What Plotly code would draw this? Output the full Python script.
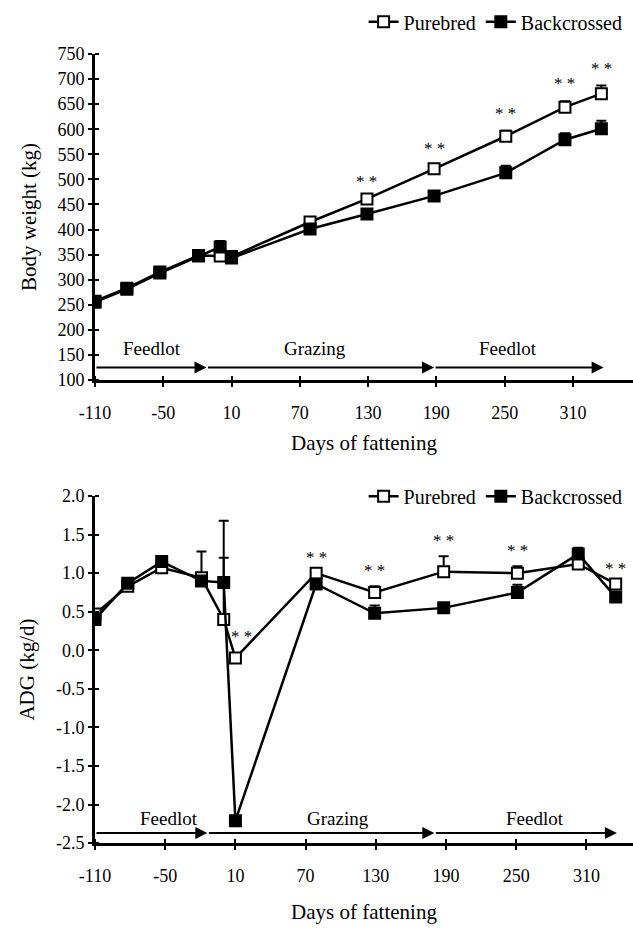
import plotly.graph_objects as go

days = [-110, -82, -53, -19, 0, 10, 79, 129, 188, 251, 303, 335]

bw_pure = [257, 283, 315, 348, 347, 346, 415, 461, 521, 586, 644, 671]
bw_back = [255, 281, 313, 347, 365, 343, 401, 431, 467, 513, 579, 601]
bw_pure_err = [0, 0, 0, 0, 0, 0, 0, 0, 5, 11, 12, 16]
bw_back_err = [0, 0, 0, 0, 12, 0, 0, 0, 5, 14, 13, 16]

adg_pure = [0.47, 0.83, 1.07, 0.94, 0.40, -0.10, 1.00, 0.75, 1.02, 1.00, 1.12, 0.86]
adg_back = [0.40, 0.87, 1.15, 0.90, 0.88, -2.21, 0.86, 0.48, 0.55, 0.75, 1.25, 0.69]
adg_pure_err = [0, 0, 0, 0.34, 0.80, 0, 0, 0.08, 0.20, 0.09, 0, 0]
adg_back_err = [0, 0, 0, 0, 0.80, 0, 0, 0.10, 0, 0.10, 0.08, 0]

sig_top = [129, 188, 251, 303, 335]
sig_bottom = [10, 79, 129, 188, 251, 335]

x_ticks = [-110, -50, 10, 70, 130, 190, 250, 310]
x_ticktext = ["-110", "-50", "10", "70", "130", "190", "250", "310"]
bw_ticks = list(range(100, 751, 50))
adg_ticks = [2.0, 1.5, 1.0, 0.5, 0.0, -0.5, -1.0, -1.5, -2.0, -2.5]
adg_ticktext = ["2.0", "1.5", "1.0", "0.5", "0.0", "-0.5", "-1.0", "-1.5", "-2.0", "-2.5"]

phases = ["Feedlot", "Grazing", "Feedlot"]
top_phase_ends = [-12, 188, 337]
top_phase_label_x = [-60, 83, 253]
bot_phase_ends = [-14, 180, 336]
bot_phase_label_x = [-47, 98, 266]

FONT = "Liberation Serif"
W, H = 633, 934
L = 95


def py(px):
    return 1 - px / H


fig = go.Figure()


def add_series(xa, ya, yvals, errs, name, fill, legend):
    fig.add_trace(go.Scatter(
        x=days, y=yvals, xaxis=xa, yaxis=ya, name=name, legend=legend,
        showlegend=True, mode="lines+markers",
        line=dict(color="black", width=2.5),
        marker=dict(symbol="square", size=11, color=fill,
                    line=dict(color="black", width=2)),
        error_y=dict(type="data", symmetric=False, array=errs,
                     arrayminus=[0] * len(errs), color="black",
                     thickness=2, width=5),
    ))


add_series("x", "y", bw_pure, bw_pure_err, "Purebred", "white", "legend")
add_series("x", "y", bw_back, bw_back_err, "Backcrossed", "black", "legend")
add_series("x2", "y2", adg_pure, adg_pure_err, "Purebred", "white", "legend2")
add_series("x2", "y2", adg_back, adg_back_err, "Backcrossed", "black", "legend2")

annotations = []
for d in sig_top:
    i = days.index(d)
    annotations.append(dict(x=d, y=bw_pure[i] + bw_pure_err[i], xref="x", yref="y",
                            text="* *", showarrow=False, yanchor="bottom", yshift=6,
                            font=dict(family=FONT, size=17, color="black")))
for d in sig_bottom:
    i = days.index(d)
    xs = 6 if d == 10 else 0
    ys = 10 if d == 10 else 4
    annotations.append(dict(x=d, y=adg_pure[i] + adg_pure_err[i], xref="x2", yref="y2",
                            text="* *", showarrow=False, yanchor="bottom", yshift=ys,
                            xshift=xs, font=dict(family=FONT, size=17, color="black")))

# phase arrows and labels
top_arrow_y, top_label_y = 125, 162
bot_arrow_y, bot_label_y = -2.37, -2.18
starts_top = [-110] + top_phase_ends[:-1]
starts_bot = [-110] + bot_phase_ends[:-1]
for s, e in zip(starts_top, top_phase_ends):
    annotations.append(dict(x=e, y=top_arrow_y, ax=s, ay=top_arrow_y, xref="x", yref="y",
                            axref="x", ayref="y", showarrow=True, arrowhead=2,
                            arrowsize=1.2, arrowwidth=2, arrowcolor="black", text=""))
for s, e in zip(starts_bot, bot_phase_ends):
    annotations.append(dict(x=e, y=bot_arrow_y, ax=s, ay=bot_arrow_y, xref="x2", yref="y2",
                            axref="x2", ayref="y2", showarrow=True, arrowhead=2,
                            arrowsize=1.2, arrowwidth=2, arrowcolor="black", text=""))
for lab, xv in zip(phases, top_phase_label_x):
    annotations.append(dict(x=xv, y=top_label_y, xref="x", yref="y", text=lab,
                            showarrow=False, font=dict(family=FONT, size=19, color="black")))
for lab, xv in zip(phases, bot_phase_label_x):
    annotations.append(dict(x=xv, y=bot_label_y, xref="x2", yref="y2", text=lab,
                            showarrow=False, font=dict(family=FONT, size=19, color="black")))

axis_common = dict(showgrid=False, zeroline=False, showline=True, linecolor="black",
                   linewidth=3, ticks="outside", ticklen=4, tickwidth=2,
                   tickcolor="black", tickfont=dict(family=FONT, size=18, color="black"))
minor_common = dict(ticks="inside", ticklen=4, tickwidth=2, tickcolor="black")

fig.update_layout(
    width=W, height=H, paper_bgcolor="white", plot_bgcolor="white",
    margin=dict(l=L, r=0, t=0, b=0),
    font=dict(family=FONT, color="black"),
    annotations=annotations,
    xaxis=dict(**axis_common, domain=[0, 1], range=[-110, 362.8], anchor="y",
               tickvals=x_ticks, ticktext=x_ticktext, ticklabelstandoff=10,
               minor=dict(tickvals=x_ticks, **minor_common),
               title=dict(text="Days of fattening", font=dict(family=FONT, size=21),
                          standoff=14)),
    yaxis=dict(**axis_common, domain=[py(378), py(45)], range=[100, 750], anchor="x",
               tickvals=bw_ticks,
               minor=dict(tickvals=bw_ticks, **minor_common),
               title=dict(text="Body weight (kg)", font=dict(family=FONT, size=21),
                          standoff=16)),
    xaxis2=dict(**axis_common, domain=[0, 1], range=[-110, 349.8], anchor="y2",
                tickvals=x_ticks, ticktext=x_ticktext, ticklabelstandoff=10,
                minor=dict(tickvals=x_ticks, **minor_common),
                title=dict(text="Days of fattening", font=dict(family=FONT, size=21),
                           standoff=20)),
    yaxis2=dict(**axis_common, domain=[py(851.3), py(496.7)], range=[-2.5, 2.0],
                anchor="x2", tickvals=adg_ticks, ticktext=adg_ticktext,
                minor=dict(tickvals=adg_ticks, **minor_common),
                title=dict(text="ADG (kg/d)", font=dict(family=FONT, size=21),
                           standoff=16)),
    legend=dict(orientation="h", x=0.99, xanchor="right", y=py(12), yanchor="middle",
                font=dict(family=FONT, size=20, color="black"),
                bgcolor="rgba(0,0,0,0)", itemwidth=30, tracegroupgap=0),
    legend2=dict(orientation="h", x=0.99, xanchor="right", y=py(497), yanchor="middle",
                 font=dict(family=FONT, size=20, color="black"),
                 bgcolor="rgba(0,0,0,0)", itemwidth=30, tracegroupgap=0),
)

fig.write_html("out.html")
